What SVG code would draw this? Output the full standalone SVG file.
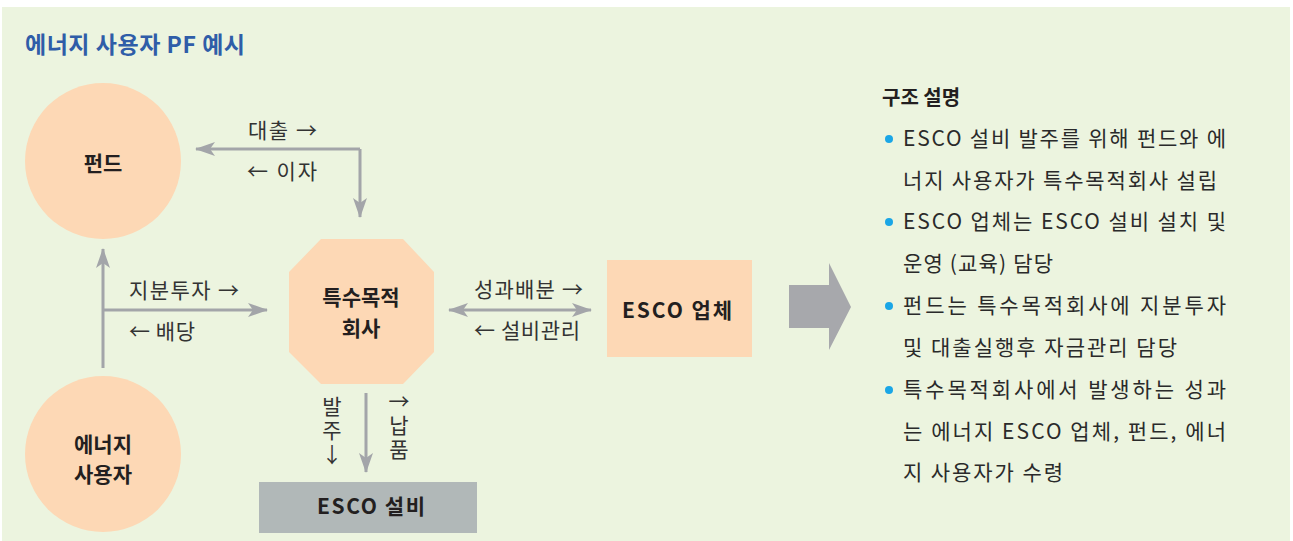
<svg xmlns="http://www.w3.org/2000/svg" width="1293" height="541" viewBox="0 0 1293 541">
  <defs>
    <marker id="ah" markerUnits="userSpaceOnUse" markerWidth="20" markerHeight="14" refX="19" refY="7" orient="auto-start-reverse" viewBox="0 0 20 14">
      <path d="M0,0 L20,7 L0,14 L5,7 Z" fill="#A3A5A9"/>
    </marker>
    <style>
      .kr { font-family: "Noto Sans CJK KR", "Noto Sans", sans-serif; }
      .node { fill: #FDD8B5; }
      .nlabel { font-family: "Noto Sans CJK KR", "Noto Sans", sans-serif; font-size: 21px; font-weight: bold; fill: #231F20; text-anchor: middle; }
      .clabel { font-family: "Noto Sans CJK KR", "Noto Sans", sans-serif; font-size: 21px; fill: #333333; }
      .vlabel { writing-mode: vertical-rl; text-orientation: upright; letter-spacing: 3px; }
      .conn { fill: none; stroke: #A3A5A9; stroke-width: 3; }
      .desc { font-family: "Noto Sans CJK KR", "Noto Sans", sans-serif; font-size: 21px; fill: #2A2A2A; }
      .bullet { fill: #1AA6E6; }
    </style>
  </defs>

  <rect x="0" y="0" width="1293" height="541" fill="#FFFFFF"/>
  <rect x="2" y="7" width="1288" height="534" fill="#ECF4DF"/>

  <text x="25" y="53" class="kr" font-size="23" font-weight="bold" fill="#2F5DA8" textLength="220" lengthAdjust="spacing">에너지 사용자 PF 예시</text>

  <g id="connectors">
    <path class="conn" d="M360,149 L196,149" marker-end="url(#ah)"/>
    <path class="conn" d="M360,149 L360,217" marker-end="url(#ah)"/>
    <path class="conn" d="M103,368 L103,249" marker-end="url(#ah)"/>
    <path class="conn" d="M103,310 L267,310" marker-end="url(#ah)"/>
    <path class="conn" d="M449,310 L591,310" marker-start="url(#ah)" marker-end="url(#ah)"/>
    <path class="conn" d="M366,393 L366,472" marker-end="url(#ah)"/>

    <text class="clabel" x="248" y="138" textLength="69" lengthAdjust="spacing">대출 →</text>
    <text class="clabel" x="247" y="179" textLength="70" lengthAdjust="spacing">← 이자</text>
    <text class="clabel" x="129" y="298" textLength="110" lengthAdjust="spacing">지분투자 →</text>
    <text class="clabel" x="129" y="339" textLength="66" lengthAdjust="spacing">← 배당</text>
    <text class="clabel" x="474" y="297" textLength="109" lengthAdjust="spacing">성과배분 →</text>
    <text class="clabel" x="474" y="338" textLength="106" lengthAdjust="spacing">← 설비관리</text>
    <text class="clabel vlabel" x="332" y="396">발주↓</text>
    <text class="clabel vlabel" x="399" y="391">→납품</text>
  </g>

  <g id="fund">
    <circle class="node" cx="103" cy="161" r="78"/>
    <text class="nlabel" x="103" y="171">펀드</text>
  </g>

  <g id="energy-user">
    <circle class="node" cx="103" cy="454" r="78"/>
    <text class="nlabel" x="103" y="452">에너지</text>
    <text class="nlabel" x="103" y="482">사용자</text>
  </g>

  <g id="spc">
    <polygon class="node" points="321,239 403,239 434,272 434,352 403,384 321,384 289,352 289,272"/>
    <text class="nlabel" x="361" y="305">특수목적</text>
    <text class="nlabel" x="361" y="336">회사</text>
  </g>

  <g id="esco-company">
    <rect class="node" x="607" y="260" width="145" height="97"/>
    <text class="nlabel" x="677" y="318" textLength="110" lengthAdjust="spacing">ESCO 업체</text>
  </g>

  <g id="esco-equipment">
    <rect x="259" y="482" width="218" height="51" fill="#B1B8B8"/>
    <text class="nlabel" x="371" y="514" textLength="108" lengthAdjust="spacing">ESCO 설비</text>
  </g>

  <g id="big-arrow">
    <polygon points="789,285 829,285 829,263 851,307 829,350 829,328 789,328" fill="#A7A8AC"/>
  </g>

  <g id="description">
    <text class="kr" x="882" y="105" font-size="20" font-weight="bold" fill="#231F20">구조 설명</text>
    <circle class="bullet" cx="889" cy="139" r="4"/>
    <circle class="bullet" cx="889" cy="222" r="4"/>
    <circle class="bullet" cx="889" cy="306" r="4"/>
    <circle class="bullet" cx="889" cy="390" r="4"/>
    <text class="desc" x="903" y="146" textLength="323" lengthAdjust="spacing">ESCO 설비 발주를 위해 펀드와 에</text>
    <text class="desc" x="903" y="188" textLength="314" lengthAdjust="spacing">너지 사용자가 특수목적회사 설립</text>
    <text class="desc" x="903" y="229" textLength="323" lengthAdjust="spacing">ESCO 업체는 ESCO 설비 설치 및</text>
    <text class="desc" x="903" y="271" textLength="150" lengthAdjust="spacing">운영 (교육) 담당</text>
    <text class="desc" x="903" y="313" textLength="323" lengthAdjust="spacing">펀드는  특수목적회사에  지분투자</text>
    <text class="desc" x="903" y="355" textLength="274" lengthAdjust="spacing">및 대출실행후 자금관리 담당</text>
    <text class="desc" x="903" y="397" textLength="323" lengthAdjust="spacing">특수목적회사에서  발생하는  성과</text>
    <text class="desc" x="903" y="439" textLength="323" lengthAdjust="spacing">는 에너지 ESCO 업체, 펀드, 에너</text>
    <text class="desc" x="903" y="480" textLength="160" lengthAdjust="spacing">지 사용자가 수령</text>
  </g>
</svg>
